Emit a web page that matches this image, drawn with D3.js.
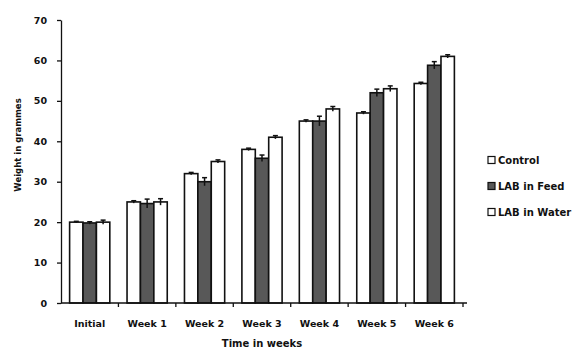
<!DOCTYPE html>
<html>
<head>
<meta charset="utf-8">
<script src="https://cdn.jsdelivr.net/npm/d3@7"></script>
<style>
  html, body { margin: 0; padding: 0; background: #fff; }
  svg { display: block; }
  text { font-family: "DejaVu Sans", Verdana, sans-serif; font-weight: bold; fill: #111; }
</style>
</head>
<body>
<svg id="chart" width="581" height="349"></svg>
<script>
// Weekly body weight (grammes) per treatment group
const categories = ["Initial", "Week 1", "Week 2", "Week 3", "Week 4", "Week 5", "Week 6"];
const seriesNames = ["Control", "LAB in Feed", "LAB in Water"];
const control = [20, 25, 32, 38, 45, 47, 54.3];
const labFeed = [19.8, 24.6, 30, 35.8, 45, 52, 58.8];
const labWater = [20, 25, 35, 41, 48, 53, 61];
const controlErr = [0.2, 0.3, 0.3, 0.3, 0.3, 0.3, 0.3];
const labFeedErr = [0.3, 1.1, 1.0, 0.8, 1.2, 0.9, 0.9];
const labWaterErr = [0.5, 0.8, 0.4, 0.4, 0.6, 0.7, 0.4];
const yTicks = [0, 10, 20, 30, 40, 50, 60, 70];

const seriesValues = [control, labFeed, labWater];
const seriesErrors = [controlErr, labFeedErr, labWaterErr];
const fills = ["#ffffff", "#585858", "#ffffff"];

const svg = d3.select("#chart");
const plotLeft = 61, plotRight = 463, plotTop = 20, plotBottom = 303;

const x0 = d3.scaleBand().domain(categories).range([plotLeft, plotRight]).paddingInner(0.3).paddingOuter(0.15);
const x1 = d3.scaleBand().domain(seriesNames).range([0, x0.bandwidth()]).padding(0);
const y = d3.scaleLinear().domain([0, 70]).range([plotBottom, plotTop]);

const cells = (c, i) => seriesNames.map((s, k) => ({ s, k, v: seriesValues[k][i], e: seriesErrors[k][i] }));

// bars
const groups = svg.append("g").selectAll("g")
  .data(categories)
  .join("g")
  .attr("transform", d => `translate(${x0(d)},0)`);

groups.selectAll("rect")
  .data(cells)
  .join("rect")
  .attr("x", d => x1(d.s))
  .attr("y", d => y(d.v))
  .attr("width", x1.bandwidth())
  .attr("height", d => y(0) - y(d.v))
  .attr("fill", d => fills[d.k])
  .attr("stroke", "#111")
  .attr("stroke-width", 1.6);

// error bars
groups.selectAll("g.err")
  .data(cells)
  .join("g")
  .attr("class", "err")
  .each(function (d) {
    const g = d3.select(this);
    const cx = x1(d.s) + x1.bandwidth() / 2;
    g.append("line").attr("x1", cx).attr("x2", cx)
      .attr("y1", y(d.v + d.e)).attr("y2", y(d.v - d.e))
      .attr("stroke", "#111").attr("stroke-width", 1.5);
    g.append("line").attr("x1", cx - 2.5).attr("x2", cx + 2.5)
      .attr("y1", y(d.v + d.e)).attr("y2", y(d.v + d.e))
      .attr("stroke", "#111").attr("stroke-width", 1.5);
  });

// y axis
const yAxis = svg.append("g")
  .attr("transform", `translate(${plotLeft},0)`)
  .call(d3.axisLeft(y).tickValues(yTicks).tickSize(4).tickSizeOuter(0).tickPadding(10));
yAxis.select(".domain").attr("stroke", "#111").attr("stroke-width", 1.3);
yAxis.selectAll(".tick line").attr("stroke", "#111").attr("stroke-width", 1.3);
yAxis.selectAll("text").style("font-size", "9.5px").attr("font-family", null);

// x axis: line with ticks at category boundaries
const xg = svg.append("g");
xg.append("line").attr("x1", plotLeft).attr("x2", plotRight + 4).attr("y1", plotBottom).attr("y2", plotBottom)
  .attr("stroke", "#111").attr("stroke-width", 1.3);
const step = x0.step();
const bounds = d3.range(categories.length + 1).map(i => x0(categories[0]) - x0.paddingOuter() * step + i * step);
xg.selectAll("line.tk").data(bounds.slice(1)).join("line")
  .attr("class", "tk")
  .attr("x1", d => d).attr("x2", d => d)
  .attr("y1", plotBottom).attr("y2", plotBottom + 4)
  .attr("stroke", "#111").attr("stroke-width", 1.3);
xg.selectAll("text").data(categories).join("text")
  .attr("x", d => x0(d) + x0.bandwidth() / 2)
  .attr("y", plotBottom + 24)
  .attr("text-anchor", "middle")
  .style("font-size", "9.5px")
  .text(d => d);

// axis titles
svg.append("text")
  .attr("transform", "translate(21,145) rotate(-90)")
  .attr("text-anchor", "middle")
  .style("font-size", "8.5px")
  .text("Weight in grammes");
svg.append("text")
  .attr("x", 262).attr("y", 347)
  .attr("text-anchor", "middle")
  .style("font-size", "10px")
  .text("Time in weeks");

// legend
const legend = svg.append("g").attr("transform", "translate(488,160)");
seriesNames.forEach((s, k) => {
  const g = legend.append("g").attr("transform", `translate(0,${k * 26})`);
  g.append("rect").attr("x", 0).attr("y", -3.5).attr("width", 7).attr("height", 7)
    .attr("fill", fills[k]).attr("stroke", "#111").attr("stroke-width", 1.2);
  g.append("text").attr("x", 10).attr("y", 3.5).style("font-size", "10px").text(s);
});
</script>
</body>
</html>
